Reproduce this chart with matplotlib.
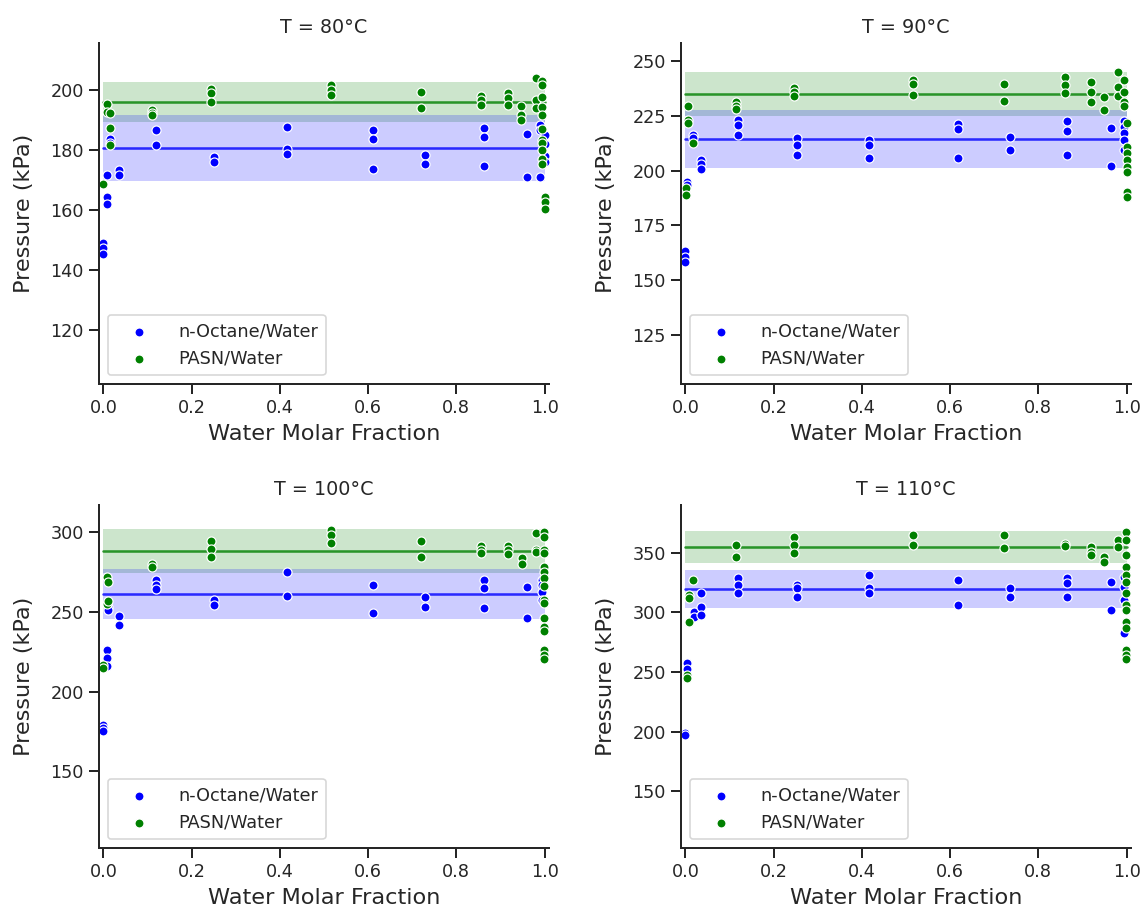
import matplotlib
matplotlib.use("Agg")
import matplotlib.pyplot as plt
from matplotlib.ticker import MultipleLocator
import seaborn as sns

sns.set_theme(style="ticks", context="notebook")
plt.rcParams['font.family'] = ['DejaVu Sans']

temperatures = ["80", "90", "100", "110"]

# ---- T = 80 C ----
oct80_x = [0.0, 0.0, 0.0, 0.009, 0.009, 0.009, 0.016, 0.016, 0.035, 0.035,
           0.119, 0.119, 0.251, 0.251, 0.416, 0.416, 0.416, 0.612, 0.612, 0.612,
           0.729, 0.729, 0.863, 0.863, 0.863, 0.96, 0.96, 0.99, 0.99, 0.99,
           1.0, 1.0, 1.0, 1.0]
oct80_p = [149.0, 147.5, 145.5, 171.6, 164.3, 162.1, 183.8, 182.2, 173.2, 171.6,
           186.6, 181.6, 177.7, 176.0, 187.7, 180.5, 178.8, 186.6, 183.8, 173.8,
           178.3, 175.2, 187.2, 184.4, 174.6, 185.3, 171.0, 188.3, 186.6, 171.0,
           185.0, 182.0, 178.0, 176.0]
pasn80_x = [0.0, 0.009, 0.009, 0.016, 0.016, 0.016, 0.11, 0.11, 0.11,
            0.243, 0.243, 0.243, 0.515, 0.515, 0.515, 0.72, 0.72,
            0.855, 0.855, 0.855, 0.916, 0.916, 0.916, 0.946, 0.946, 0.946,
            0.98, 0.98, 0.98,
            0.995, 0.995, 0.995, 0.995, 0.995, 0.995, 0.995, 0.995, 0.995, 0.995, 0.995,
            1.0, 1.0, 1.0]
pasn80_p = [168.6, 195.5, 192.7, 192.2, 187.2, 181.6, 193.5, 192.5, 191.8,
            200.2, 198.9, 196.1, 201.7, 200.0, 198.3, 199.4, 193.9,
            198.0, 196.7, 195.0, 198.9, 197.2, 195.0, 194.6, 191.6, 190.0,
            203.9, 196.7, 193.9,
            203.0, 201.7, 197.8, 194.4, 191.6, 187.0, 183.3, 182.2, 180.0, 177.1, 175.5,
            164.3, 162.6, 160.4]

# ---- T = 90 C ----
oct90_x = [0.003, 0.003, 0.0, 0.0, 0.0, 0.017, 0.017, 0.035, 0.035, 0.035,
           0.119, 0.119, 0.119, 0.252, 0.252, 0.252, 0.416, 0.416, 0.416,
           0.617, 0.617, 0.617, 0.735, 0.735, 0.865, 0.865, 0.865, 0.964, 0.964,
           0.995, 0.995, 0.995, 0.995, 0.995]
oct90_p = [194.9, 193.4, 163.5, 160.5, 158.2, 216.4, 214.8, 204.9, 203.3, 201.0,
           223.2, 221.0, 216.4, 214.8, 211.8, 207.2, 214.0, 211.8, 205.6,
           221.4, 219.1, 205.6, 215.3, 209.7, 222.9, 218.3, 207.2, 219.4, 202.1,
           222.9, 220.0, 217.1, 214.0, 209.7]
pasn90_x = [0.005, 0.005, 0.005, 0.017, 0.002, 0.002, 0.114, 0.114, 0.114,
            0.245, 0.245, 0.245, 0.516, 0.516, 0.516, 0.721, 0.721,
            0.86, 0.86, 0.86, 0.919, 0.919, 0.919, 0.948, 0.948,
            0.981, 0.981, 0.981,
            0.995, 0.995, 0.995, 0.995, 1.0, 1.0, 1.0, 1.0, 1.0, 1.0, 1.0, 1.0]
pasn90_p = [229.7, 223.2, 221.7, 212.5, 191.9, 188.8, 231.2, 229.5, 228.1,
            237.8, 236.2, 234.3, 241.6, 239.8, 234.7, 239.8, 232.1,
            242.8, 239.3, 235.5, 240.4, 236.2, 231.2, 233.6, 227.8,
            245.0, 238.5, 234.2,
            241.6, 236.2, 231.6, 229.4, 221.7, 211.0, 208.0, 204.9, 201.8, 199.5, 190.3, 188.0]

# ---- T = 100 C ----
oct100_x = [0.0, 0.0, 0.0, 0.008, 0.008, 0.008, 0.011, 0.011, 0.035, 0.035,
            0.119, 0.119, 0.119, 0.251, 0.251, 0.416, 0.416, 0.612, 0.612,
            0.729, 0.729, 0.863, 0.863, 0.863, 0.96, 0.96,
            0.995, 0.995, 0.995, 0.995]
oct100_p = [179.0, 177.0, 175.5, 226.3, 221.1, 215.9, 253.4, 251.4, 247.6, 242.0,
            270.1, 267.0, 264.3, 257.6, 254.5, 275.3, 260.3, 267.0, 249.3,
            259.7, 253.4, 270.1, 264.9, 252.4, 265.5, 246.1,
            270.1, 267.0, 262.8, 257.6]
pasn100_x = [0.0, 0.0, 0.0075, 0.0075, 0.011, 0.011, 0.11, 0.11,
             0.243, 0.243, 0.243, 0.515, 0.515, 0.515, 0.72, 0.72,
             0.856, 0.856, 0.856, 0.917, 0.917, 0.917, 0.948, 0.948,
             0.98, 0.98, 0.98,
             0.998, 0.998, 0.998, 0.998, 0.998, 0.998, 0.998, 0.998,
             0.998, 0.998, 0.998, 0.998, 0.998, 0.998, 0.998, 0.998]
pasn100_p = [216.5, 214.8, 272.2, 255.1, 269.1, 256.6, 280.2, 278.5,
             294.6, 289.3, 284.7, 301.4, 298.3, 293.1, 294.6, 284.7,
             291.4, 288.9, 286.8, 291.4, 288.9, 286.2, 283.7, 280.2,
             299.4, 288.9, 287.9,
             300.4, 297.3, 288.9, 286.8, 278.5, 275.3, 271.2, 266.0,
             257.6, 255.5, 246.1, 240.9, 237.8, 226.3, 223.2, 220.5]

# ---- T = 110 C ----
oct110_x = [0.0, 0.0, 0.004, 0.004, 0.02, 0.02, 0.035, 0.035, 0.035,
            0.119, 0.119, 0.119, 0.252, 0.252, 0.252, 0.416, 0.416, 0.416,
            0.617, 0.617, 0.735, 0.735, 0.865, 0.865, 0.865, 0.964, 0.964,
            0.995, 0.995, 0.995, 0.995]
oct110_p = [198.9, 197.0, 257.4, 252.5, 300.7, 296.5, 316.0, 304.8, 297.9,
            328.5, 323.0, 316.0, 323.0, 320.2, 313.2, 331.3, 320.2, 316.0,
            327.2, 306.2, 320.2, 313.2, 328.5, 324.4, 313.2, 325.8, 302.0,
            329.9, 321.6, 310.4, 282.5]
pasn110_x = [0.018, 0.008, 0.008, 0.009, 0.004, 0.004, 0.114, 0.114,
             0.245, 0.245, 0.245, 0.516, 0.516, 0.721, 0.721, 0.86, 0.86,
             0.919, 0.919, 0.919, 0.948, 0.948, 0.981, 0.981,
             0.998, 0.998, 0.998, 0.998, 0.998, 0.998, 0.998,
             0.998, 0.998, 0.998, 0.998, 0.998, 0.998, 0.998]
pasn110_p = [327.2, 314.6, 311.8, 292.3, 247.7, 244.9, 356.4, 346.7,
             363.4, 356.4, 349.5, 364.8, 356.4, 364.8, 353.6, 357.3, 355.6,
             355.1, 350.9, 348.1, 346.7, 342.5, 360.6, 355.1,
             367.6, 360.6, 348.1, 338.3, 331.3, 325.8, 316.0,
             306.2, 302.0, 292.3, 286.7, 268.6, 264.4, 260.8]

# mean and standard deviation (band) for each temperature
oct_mean = [180.6, 214.4, 261.3, 319.5]
oct_std = [11.0, 13.2, 15.8, 15.8]
pasn_mean = [196.0, 235.0, 288.4, 355.0]
pasn_std = [6.6, 10.1, 13.7, 13.5]

oct_x_all = [oct80_x, oct90_x, oct100_x, oct110_x]
oct_p_all = [oct80_p, oct90_p, oct100_p, oct110_p]
pasn_x_all = [pasn80_x, pasn90_x, pasn100_x, pasn110_x]
pasn_p_all = [pasn80_p, pasn90_p, pasn100_p, pasn110_p]

ylims = [(102, 215.7), (102.5, 258.4), (102, 317.1), (102.6, 390)]
ytick_steps = [20, 25, 50, 50]

W, H = 1144, 909
dpi = 115
fig = plt.figure(figsize=(W / dpi, H / dpi), dpi=dpi)

positions = [
    (99 / W, (H - 384) / H, 450 / W, 341 / H),
    (681 / W, (H - 384) / H, 450 / W, 341 / H),
    (99 / W, (H - 848) / H, 450 / W, 343 / H),
    (681 / W, (H - 848) / H, 450 / W, 343 / H),
]

for i, T in enumerate(temperatures):
    ax = fig.add_axes(positions[i])
    # bands (mean +/- std)
    ax.fill_between([0.0, 1.0], pasn_mean[i] - pasn_std[i], pasn_mean[i] + pasn_std[i],
                    color="green", alpha=0.2, lw=0, zorder=1)
    ax.fill_between([0.0, 1.0], oct_mean[i] - oct_std[i], oct_mean[i] + oct_std[i],
                    color="blue", alpha=0.2, lw=0, zorder=1)
    ax.plot([0.0, 1.0], [oct_mean[i], oct_mean[i]], color="blue", alpha=0.8, lw=1.6, zorder=1.5)
    ax.plot([0.0, 1.0], [pasn_mean[i], pasn_mean[i]], color="green", alpha=0.8, lw=1.6, zorder=1.5)
    ax.scatter(oct_x_all[i], oct_p_all[i], s=32, color="blue", edgecolor="white",
               linewidth=0.75, label="n-Octane/Water", zorder=2)
    ax.scatter(pasn_x_all[i], pasn_p_all[i], s=32, color="green", edgecolor="white",
               linewidth=0.75, label="PASN/Water", zorder=2)
    ax.set_xlim(-0.01, 1.01)
    ax.set_ylim(*ylims[i])
    ax.yaxis.set_major_locator(MultipleLocator(ytick_steps[i]))
    ax.set_title(f"T = {T}°C", fontsize=12)
    ax.set_xlabel("Water Molar Fraction", fontsize=14)
    ax.set_ylabel("Pressure (kPa)", fontsize=14, labelpad=10)
    ax.tick_params(labelsize=11)
    ax.legend(loc="lower left", fontsize=11, handlelength=2.6, handletextpad=0.95,
              borderpad=0.45)
    sns.despine(ax=ax)

fig.savefig("out.png", dpi=dpi)
